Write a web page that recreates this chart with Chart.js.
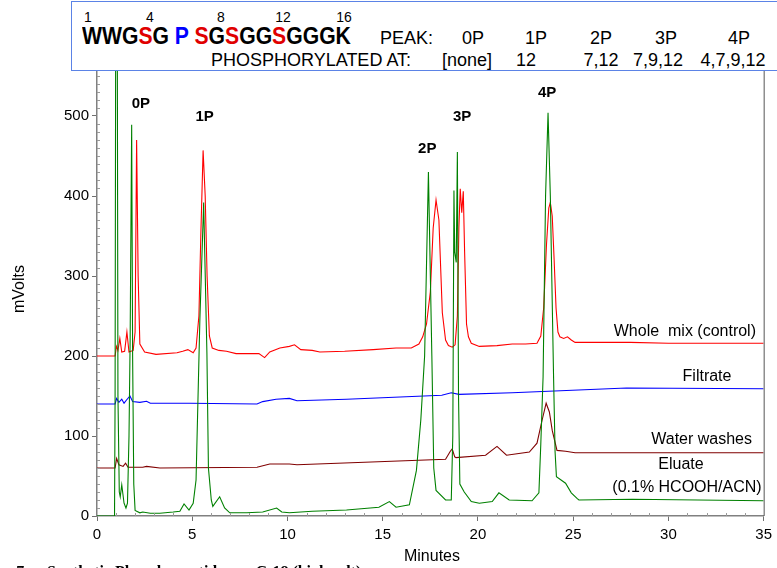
<!DOCTYPE html>
<html>
<head>
<meta charset="utf-8">
<script src="https://cdn.jsdelivr.net/npm/chart.js@4.4.0/dist/chart.umd.min.js"></script>
<style>
  body { margin: 0; background: #fff; }
  #wrap { position: relative; width: 777px; height: 568px; overflow: hidden; font-family: "Liberation Sans", Arial, sans-serif; }
  #header { position: absolute; left: 71px; top: 1px; width: 720px; height: 70px; background: #fff; border: 1px solid #5b83e6; box-sizing: border-box; }
  #header span { position: absolute; white-space: pre; line-height: 1; color: #000; }
  #header span span { position: static; }
  .num { font-size: 14px; transform: translateX(-50%); }
  .seq { font-size: 23px; font-weight: bold; transform: scaleX(0.92); transform-origin: 0 0; }
  .hd { font-size: 18px; }
  .ctr { transform: translateX(-50%); }
  .red { color: #e00000 !important; }
  .blue { color: #0000ff !important; }
</style>
</head>
<body>
<div id="wrap">
  <canvas id="chromatogram" width="777" height="568"></canvas>
  <div id="header"></div>
</div>
<script>
// retention time (min) / response (mV)
var wholeMixTime = [0, 0.95, 1.02, 1.1, 1.2, 1.3, 1.45, 1.57, 1.68, 1.9, 2.0, 2.08, 2.16, 2.25, 2.5, 3.1, 4.2, 4.5, 4.77, 5.05, 5.2, 5.35, 5.45, 5.57, 5.68, 5.78, 5.9, 6.05, 6.4, 6.8, 7.3, 8.5, 8.8, 9.07, 9.6, 10.1, 10.37, 10.7, 11.3, 11.7, 13, 14.5, 15.7, 16.5, 16.9, 17.1, 17.3, 17.5, 17.65, 17.8, 17.95, 18.13, 18.3, 18.45, 18.65, 18.8, 18.92, 19.0, 19.07, 19.15, 19.23, 19.3, 19.4, 19.5, 19.65, 20.07, 21, 21.8, 22.5, 23.1, 23.3, 23.45, 23.6, 23.72, 23.8, 23.9, 24.0, 24.1, 24.2, 24.3, 24.5, 24.7, 24.9, 25.1, 26, 28, 30, 35];
var wholeMixMv   = [200, 200, 212, 207, 222, 205, 206, 230, 205, 207, 230, 470, 300, 215, 205, 202, 204, 206, 208, 204, 210, 250, 350, 457, 400, 300, 225, 210, 207, 206, 203, 203, 198, 205, 210, 212, 214, 208, 207, 205, 206, 208, 210, 210, 215, 224, 240, 280, 360, 395, 370, 254, 220, 213, 211, 214, 250, 360, 409, 379, 406, 330, 240, 224, 216, 212, 213, 215, 215, 216, 225, 260, 340, 385, 392, 375, 320, 260, 230, 224, 222, 224, 220, 217, 217, 217, 216, 216];

var filtrateTime = [0, 0.95, 1.03, 1.15, 1.3, 1.42, 1.55, 1.73, 1.87, 2.25, 2.6, 2.8, 4.87, 8.4, 8.7, 9.4, 10.1, 10.5, 13.1, 18.1, 18.6, 19.0, 21.8, 23.7, 27.8, 35];
var filtrateMv   = [140, 140, 147, 142, 146, 141, 145, 150, 143, 142, 143.5, 141, 141, 140, 143, 146, 147, 144, 146, 151, 154, 152, 154, 156, 160, 159];

var washesTime = [0, 0.95, 1.03, 1.15, 1.37, 1.5, 1.63, 2.4, 2.6, 3.3, 8.4, 9.07, 10.1, 10.5, 18.3, 18.55, 18.65, 18.78, 18.85, 20.4, 21.0, 21.5, 22.7, 23.1, 23.37, 23.58, 23.75, 23.9, 24.15, 24.6, 25.1, 35];
var washesMv   = [60, 60, 72, 64, 62, 66, 61, 61, 62, 60, 61, 65, 65, 64, 71, 81, 84, 74, 73, 76, 87, 76, 80, 91, 120, 141, 130, 107, 82, 81, 79, 79];

var eluateTime = [0, 0.92, 0.95, 1.02, 1.1, 1.17, 1.22, 1.3, 1.42, 1.52, 1.6, 1.68, 1.74, 1.82, 1.87, 1.93, 2.0, 2.25, 2.4, 2.8, 3.3, 4.0, 4.35, 4.57, 4.83, 5.05, 5.2, 5.4, 5.6, 5.77, 5.85, 6.0, 6.08, 6.44, 6.7, 6.97, 7.86, 8.7, 9.43, 9.7, 10.1, 11.3, 13.1, 14.8, 15.35, 15.7, 16.4, 16.77, 17.0, 17.2, 17.4, 17.58, 17.68, 17.8, 18.3, 18.6, 18.68, 18.74, 18.78, 18.86, 18.92, 18.98, 19.05, 19.28, 19.65, 20.07, 20.75, 21.1, 21.64, 22.84, 23.2, 23.3, 23.42, 23.55, 23.68, 23.8, 23.97, 24.05, 24.12, 24.6, 24.9, 25.2, 25.3, 28.1, 35];
var eluateMv   = [0, 0, 150, 1200, 150, 30, 24, 39, 16, 10, 16, 100, 220, 489, 200, 40, 7, 4, 5, 3.5, 3.5, 5, 6, 15, 7.5, 16, 45, 245, 392, 204, 60, 20, 12, 24, 10, 4, 4, 5, 10, 5, 4, 6, 7.5, 11, 18, 11, 14, 57, 120, 200, 430, 200, 60, 32, 20, 20, 100, 407, 330, 317, 455, 150, 40, 30, 18, 16, 18, 29, 20, 19, 29, 90, 174, 400, 504, 400, 174, 80, 49, 41, 29, 22, 20, 21, 19];

var traceNames  = ['Whole  mix (control)', 'Filtrate', 'Water washes', 'Eluate', '(0.1% HCOOH/ACN)'];
var peakNames   = ['0P', '1P', '2P', '3P', '4P'];
var peakTime    = [2.3, 5.65, 17.34, 19.17, 23.63];
var peakLevel   = [515, 499, 459, 499, 529];

var xTicks = [0, 5, 10, 15, 20, 25, 30, 35];
var yTicks = [0, 100, 200, 300, 400, 500];

// header table
var seqNumbers   = ['1', '4', '8', '12', '16'];
var peakColumns  = ['0P', '1P', '2P', '3P', '4P'];
var phosphoSites = ['[none]', '12', '7,12', '7,9,12', '4,7,9,12'];

function pairs(t, v) {
  return t.map(function (x, i) { return {x: x, y: v[i]}; });
}

// header (html overlay, coordinates relative to the box)
var header = document.getElementById('header');
function addSpan(text, cls, left, top) {
  var s = document.createElement('span');
  s.className = cls;
  s.textContent = text;
  s.style.left = left + 'px';
  s.style.top = top + 'px';
  header.appendChild(s);
  return s;
}
var numX = [16, 78, 149, 211, 272];
seqNumbers.forEach(function (n, i) { addSpan(n, 'num', numX[i], 8); });
var seq = document.createElement('span');
seq.className = 'seq';
seq.style.left = '10px';
seq.style.top = '23px';
seq.innerHTML = 'WWG<span class="red">S</span>G <span class="blue">P</span> <span class="red">S</span>G<span class="red">S</span>GG<span class="red">S</span>GGGK';
header.appendChild(seq);
addSpan('PEAK:', 'hd', 308, 27);
addSpan('PHOSPHORYLATED AT:', 'hd', 139, 49);
var peakColX = [401, 464, 529, 594, 667];
var siteColX = [395, 454, 529, 586, 661];
peakColumns.forEach(function (p, i) { addSpan(p, 'hd ctr', peakColX[i], 27); });
phosphoSites.forEach(function (p, i) { addSpan(p, 'hd ctr', siteColX[i], 49); });

var decorations = {
  id: 'decorations',
  afterDraw: function (chart) {
    var ctx = chart.ctx, a = chart.chartArea;
    var xs = chart.scales.x, ys = chart.scales.y;
    ctx.save();
    // minor ticks, inside
    ctx.strokeStyle = '#9a9a9a';
    ctx.lineWidth = 1;
    ctx.beginPath();
    for (var m = 1; m < 35; m++) {
      if (m % 5 === 0) continue;
      var px = Math.round(xs.getPixelForValue(m)) + 0.5;
      ctx.moveTo(px, a.bottom); ctx.lineTo(px, a.bottom - 3);
    }
    for (var v = 10; v < 600; v += 10) {
      if (v % 100 === 0) continue;
      var py = Math.round(ys.getPixelForValue(v)) + 0.5;
      ctx.moveTo(a.left, py); ctx.lineTo(a.left + 3, py);
    }
    ctx.stroke();
    // right frame
    ctx.strokeStyle = '#555';
    ctx.beginPath();
    ctx.moveTo(a.right + 0.5, a.top); ctx.lineTo(a.right + 0.5, a.bottom);
    ctx.stroke();

    // peak labels
    ctx.fillStyle = '#000';
    ctx.font = 'bold 15px "Liberation Sans", Arial, sans-serif';
    ctx.textAlign = 'center';
    ctx.textBaseline = 'middle';
    peakNames.forEach(function (p, i) {
      ctx.fillText(p, xs.getPixelForValue(peakTime[i]), ys.getPixelForValue(peakLevel[i]));
    });

    // trace labels
    ctx.font = '16px "Liberation Sans", Arial, sans-serif';
    ctx.textAlign = 'right';
    ctx.fillText(traceNames[0], 756, ys.getPixelForValue(230));
    ctx.textAlign = 'center';
    ctx.fillText(traceNames[1], 707, ys.getPixelForValue(174));
    ctx.textAlign = 'right';
    ctx.fillText(traceNames[2], 752, ys.getPixelForValue(95));
    ctx.textAlign = 'center';
    ctx.fillText(traceNames[3], 681, ys.getPixelForValue(64));
    ctx.fillText(traceNames[4], 687, ys.getPixelForValue(35));

    // axis titles
    ctx.fillText('Minutes', 432, 557);
    ctx.translate(20, 289);
    ctx.rotate(-Math.PI / 2);
    ctx.fillText('mVolts', 0, 0);
    ctx.restore();

    // caption, cut by the bottom edge
    ctx.save();
    ctx.fillStyle = '#000';
    ctx.font = 'bold 16px "Liberation Serif", "Times New Roman", serif';
    ctx.textAlign = 'left';
    ctx.textBaseline = 'alphabetic';
    ctx.fillText('Fig. 7:', -14, 577);
    ctx.fillText('Synthetic Phosphopeptides on C-18 (high salt)', 47, 577);
    ctx.restore();
  }
};

function trace(label, t, v, color) {
  return {
    label: label,
    data: pairs(t, v),
    borderColor: color,
    borderWidth: 1.1,
    pointRadius: 0,
    tension: 0,
    fill: false
  };
}

new Chart(document.getElementById('chromatogram'), {
  type: 'line',
  data: {
    datasets: [
      trace('Eluate', eluateTime, eluateMv, '#008000'),
      trace('Water washes', washesTime, washesMv, '#800000'),
      trace('Filtrate', filtrateTime, filtrateMv, '#0000ff'),
      trace('Whole mix (control)', wholeMixTime, wholeMixMv, '#ff0000')
    ]
  },
  options: {
    responsive: false,
    animation: false,
    layout: { padding: { top: 36, right: 12, left: 0, bottom: 0 } },
    plugins: { legend: { display: false }, tooltip: { enabled: false } },
    scales: {
      x: {
        type: 'linear',
        min: 0,
        max: 35,
        afterFit: function (s) { s.height = 52; },
        afterBuildTicks: function (s) { s.ticks = xTicks.map(function (v) { return {value: v}; }); },
        ticks: { color: '#000', font: { size: 15, family: '"Liberation Sans", Arial, sans-serif' }, padding: 5, maxRotation: 0 },
        grid: { drawOnChartArea: false, drawTicks: true, tickLength: 5, color: '#707070' },
        border: { color: '#808080', width: 1.5 }
      },
      y: {
        min: 0,
        max: 600,
        afterFit: function (s) { s.width = 97; },
        afterBuildTicks: function (s) { s.ticks = yTicks.map(function (v) { return {value: v}; }); },
        ticks: { color: '#000', font: { size: 15, family: '"Liberation Sans", Arial, sans-serif' }, padding: 3 },
        grid: { drawOnChartArea: false, drawTicks: true, tickLength: 5, color: '#707070' },
        border: { color: '#808080', width: 1.5 }
      }
    }
  },
  plugins: [decorations]
});
</script>
</body>
</html>
